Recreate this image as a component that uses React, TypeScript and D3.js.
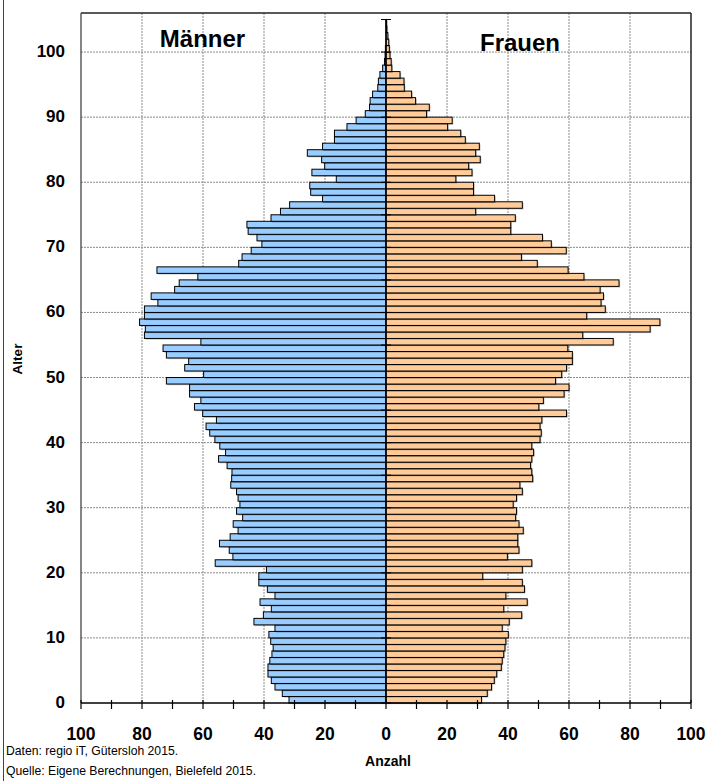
import React from "react";
import * as d3 from "d3";

const ages: number[] = d3.range(0, 105);

const maleCounts: number[] = [
  31.8, 34.0, 36.4, 37.6, 38.7, 38.7, 38.1, 37.4, 37.0, 37.8,
  38.4, 36.4, 43.3, 40.2, 37.6, 41.3, 36.4, 38.9, 41.7, 41.7,
  39.2, 56.0, 50.2, 51.4, 54.6, 51.1, 48.5, 50.1, 47.0, 49.0,
  47.9, 48.5, 49.0, 50.9, 50.6, 50.5, 52.1, 54.9, 52.6, 54.5,
  56.1, 57.8, 59.0, 55.6, 60.1, 62.8, 60.7, 64.4, 64.4, 72.0,
  59.8, 66.0, 64.7, 72.0, 73.1, 60.7, 79.2, 78.9, 80.8, 79.2,
  79.2, 74.8, 77.0, 69.3, 67.8, 61.7, 75.1, 48.3, 47.2, 44.2,
  40.7, 42.3, 45.2, 45.6, 37.7, 34.6, 31.6, 20.8, 24.7, 25.0,
  16.3, 24.3, 20.1, 21.1, 25.8, 20.8, 16.9, 16.9, 12.8, 9.8,
  6.8, 5.4, 5.2, 4.4, 2.7, 2.5, 2.0, 1.1, 0.5, 0.3,
  0.2, 0, 0, 0, 0,
];

const femaleCounts: number[] = [
  31.3, 33.2, 34.6, 35.5, 36.3, 37.8, 38.1, 38.6, 39.0, 39.3,
  40.1, 38.1, 40.4, 44.5, 38.6, 46.3, 39.3, 45.4, 44.7, 31.7,
  44.7, 47.8, 39.8, 43.6, 43.2, 43.2, 45.0, 43.6, 42.5, 42.8,
  41.7, 42.8, 44.7, 43.9, 48.1, 47.8, 47.4, 47.8, 48.4, 47.8,
  50.5, 50.9, 50.5, 51.1, 59.2, 50.1, 51.6, 58.4, 60.0, 55.6,
  57.6, 59.2, 61.1, 61.1, 59.6, 74.5, 64.5, 86.6, 89.8, 65.8,
  71.9, 70.5, 71.3, 70.2, 76.4, 64.9, 59.7, 49.6, 44.4, 59.1,
  54.2, 51.3, 40.9, 40.9, 42.4, 29.4, 44.7, 35.6, 28.7, 28.7,
  22.9, 28.2, 27.1, 30.9, 29.4, 30.6, 26.0, 24.5, 20.2, 21.7,
  13.3, 14.2, 9.7, 8.4, 6.0, 5.9, 4.6, 1.9, 1.7, 1.3,
  1.1, 0.9, 0.6, 0.3, 0.2,
];

const xTicksMajor: number[] = [-100, -80, -60, -40, -20, 0, 20, 40, 60, 80, 100];
const xTicksMinor: number[] = [-100, -90, -80, -70, -60, -50, -40, -30, -20, -10, 0, 10, 20, 30, 40, 50, 60, 70, 80, 90, 100];
const yTicks: number[] = [0, 10, 20, 30, 40, 50, 60, 70, 80, 90, 100];
const centerTicks: number[] = [0, 5, 10, 15, 20, 25, 30, 35, 40, 45, 50, 55, 60, 65, 70, 75, 80, 85, 90, 95, 100, 105];

const FONT = "'Liberation Sans', Arial, Helvetica, sans-serif";

export default function App() {
  const W = 710;
  const H = 781;
  const x = d3.scaleLinear().domain([-100, 100]).range([81, 691]);
  const y = d3.scaleLinear().domain([0, 106]).range([703, 13]);
  const x0 = x(0);

  const bars: React.ReactNode[] = [];
  ages.forEach((a, i) => {
    const yt = y(a + 1);
    const h = y(a) - y(a + 1);
    const m = maleCounts[i];
    const f = femaleCounts[i];
    if (m > 0) {
      const xl = x(-m);
      bars.push(
        <rect key={`ms${a}`} x={xl + 1.2} y={yt + 1.2} width={x0 - xl} height={h} fill="#000" opacity={0.22} />
      );
      bars.push(
        <rect key={`m${a}`} x={xl} y={yt} width={x0 - xl} height={h} fill="#99CCFF" stroke="#000" strokeWidth={1} />
      );
    }
    if (f > 0) {
      const xr = x(f);
      bars.push(
        <rect key={`fs${a}`} x={x0 + 1.2} y={yt + 1.2} width={xr - x0} height={h} fill="#000" opacity={0.22} />
      );
      bars.push(
        <rect key={`f${a}`} x={x0} y={yt} width={xr - x0} height={h} fill="#FFCC99" stroke="#000" strokeWidth={1} />
      );
    }
  });

  return (
    <svg width={W} height={H} style={{ display: "block", position: "absolute", left: 0, top: 0, background: "#fff" }}>
      <rect x={0} y={0} width={W} height={H} fill="#fff" />
      <line x1={3.5} x2={3.5} y1={0} y2={H} stroke="#444" strokeWidth={1} />

      {/* gridlines */}
      {xTicksMajor.filter((v) => v !== 0 && Math.abs(v) !== 100).map((v) => (
        <line key={`gx${v}`} x1={x(v)} x2={x(v)} y1={y(106)} y2={y(0)} stroke="#8a8a8a" strokeWidth={1} strokeDasharray="2,1" />
      ))}
      {yTicks.filter((v) => v !== 0).map((v) => (
        <line key={`gy${v}`} x1={x(-100)} x2={x(100)} y1={y(v)} y2={y(v)} stroke="#8a8a8a" strokeWidth={1} strokeDasharray="2,1" />
      ))}

      {bars}

      {/* center axis */}
      <line x1={x0} x2={x0} y1={y(0)} y2={y(105)} stroke="#000" strokeWidth={1.5} />
      {centerTicks.map((v) => (
        <line key={`ct${v}`} x1={x0 - 5} x2={x0 + 5} y1={y(v)} y2={y(v)} stroke="#000" strokeWidth={1} />
      ))}

      {/* plot border */}
      <line x1={x(-100)} x2={x(100)} y1={y(106)} y2={y(106)} stroke="#222" strokeWidth={1.5} />
      <line x1={x(-100)} x2={x(-100)} y1={y(106)} y2={y(0)} stroke="#444" strokeWidth={1.3} />
      <line x1={x(100)} x2={x(100)} y1={y(106)} y2={y(0)} stroke="#222" strokeWidth={1.5} />

      {/* bottom axis */}
      <line x1={x(-100)} x2={x(100)} y1={y(0)} y2={y(0)} stroke="#000" strokeWidth={1.5} />
      {xTicksMinor.map((v) => (
        <line key={`xt${v}`} x1={x(v)} x2={x(v)} y1={y(0) - 3} y2={y(0) + 6} stroke="#000" strokeWidth={1.2} />
      ))}
      {xTicksMajor.map((v) => (
        <text key={`xl${v}`} x={x(v)} y={739.5} textAnchor="middle" fontFamily={FONT} fontWeight="bold" fontSize={17.5} fill="#000">
          {Math.abs(v)}
        </text>
      ))}

      {/* y labels */}
      {yTicks.map((v) => (
        <text key={`yl${v}`} x={65} y={y(v) + 5} textAnchor="end" fontFamily={FONT} fontWeight="bold" fontSize={17} fill="#000">
          {v}
        </text>
      ))}

      {/* titles */}
      <text x={202.5} y={47} textAnchor="middle" fontFamily={FONT} fontWeight="bold" fontSize={24} fill="#000">Männer</text>
      <text x={520} y={50.5} textAnchor="middle" fontFamily={FONT} fontWeight="bold" fontSize={24} fill="#000">Frauen</text>

      <text transform={`translate(21.5,359) rotate(-90)`} textAnchor="middle" fontFamily={FONT} fontWeight="bold" fontSize={13.5} fill="#000">Alter</text>
      <text x={388} y={766} textAnchor="middle" fontFamily={FONT} fontWeight="bold" fontSize={14} fill="#000">Anzahl</text>

      <text x={6} y={755} fontFamily={FONT} fontSize={12.2} fill="#000">Daten: regio iT, Gütersloh 2015.</text>
      <text x={6} y={775} fontFamily={FONT} fontSize={12.2} fill="#000">Quelle: Eigene Berechnungen, Bielefeld 2015.</text>
    </svg>
  );
}
